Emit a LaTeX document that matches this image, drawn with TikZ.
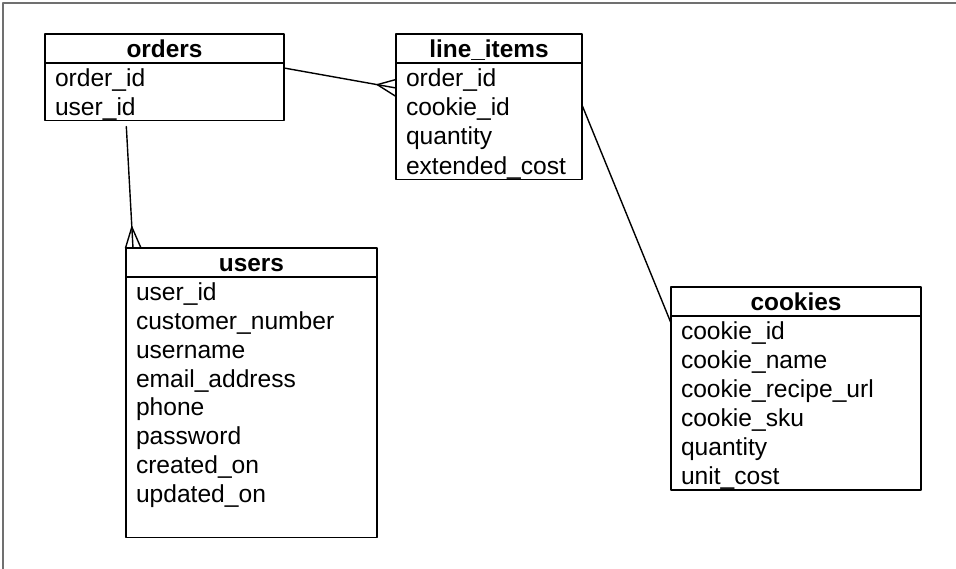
\documentclass[tikz,border=0pt]{standalone}
\usepackage{fontspec}
\setmainfont{Liberation Sans}
\usetikzlibrary{positioning,calc}
\definecolor{framegray}{HTML}{707070}
\newcommand{\rowstrut}{\rule[-5pt]{0pt}{28.8pt}}

\begin{document}
\begin{tikzpicture}[x=1pt,y=-1pt,line join=round,line cap=round,font=\fontsize{24.6}{28.8}\selectfont]
	\tikzset{every node/.style={inner sep=0pt,outer sep=0pt}}
	\tikzset{tblhead/.style={draw,line width=1.6pt,anchor=north west,minimum width=#1,minimum height=29pt,text height=23.5pt,text depth=5.5pt,font=\fontsize{24.4}{28.8}\selectfont\bfseries}}
	\tikzset{tblbody/.style={draw,line width=1.6pt,below=0pt of #1,align=left,inner xsep=10pt,execute at begin node=\rowstrut,execute at end node=\rowstrut}}
	\tikzset{rel/.style={line width=1.4pt}}
	\useasboundingbox (0,0) rectangle (956,569);
	\draw[framegray,line width=1.2pt] (3,569)--(3,3)--(956,3);
	\node[tblhead=239pt] (orders) at (45,34) {orders};
	\node[tblbody=orders,text width=219pt] (ordersbody) {order\_id\\user\_id};
	\node[tblhead=186pt] (items) at (396,34) {line\_items};
	\node[tblbody=items,text width=166pt] (itemsbody) {order\_id\\cookie\_id\\quantity\\extended\_cost};
	\node[tblhead=251pt] (users) at (126,248) {users};
	\node[tblbody=users,text width=231pt] (usersbody) {user\_id\\customer\_number\\username\\email\_address\\phone\\password\\created\_on\\updated\_on\\~};
	\node[tblhead=250pt] (cookies) at (671,287) {cookies};
	\node[tblbody=cookies,text width=230pt] (cookiesbody) {cookie\_id\\cookie\_name\\cookie\_recipe\_url\\cookie\_sku\\quantity\\unit\_cost};
	\coordinate (o-out) at ([yshift=-5pt]ordersbody.north east);
	\coordinate (li-in) at ([yshift=-25pt]itemsbody.north west);
	\draw[rel] (o-out)--(li-in);
	\draw[rel] ([yshift=8.5pt]li-in)--($(li-in)!19pt!(o-out)$)--([yshift=-8.5pt]li-in);
	\coordinate (o-down) at ([xshift=81pt]ordersbody.south west);
	\coordinate (u-up) at ([xshift=7pt]users.north west);
	\draw[rel,shorten <=6pt] (o-down)--(u-up);
	\draw[rel] ([xshift=-7.5pt]u-up)--($(u-up)!21pt!(o-down)$)--([xshift=8pt]u-up);
	\draw[rel] ([yshift=-42pt]itemsbody.north east)--([yshift=-7pt]cookiesbody.north west);
\end{tikzpicture}
\end{document}
